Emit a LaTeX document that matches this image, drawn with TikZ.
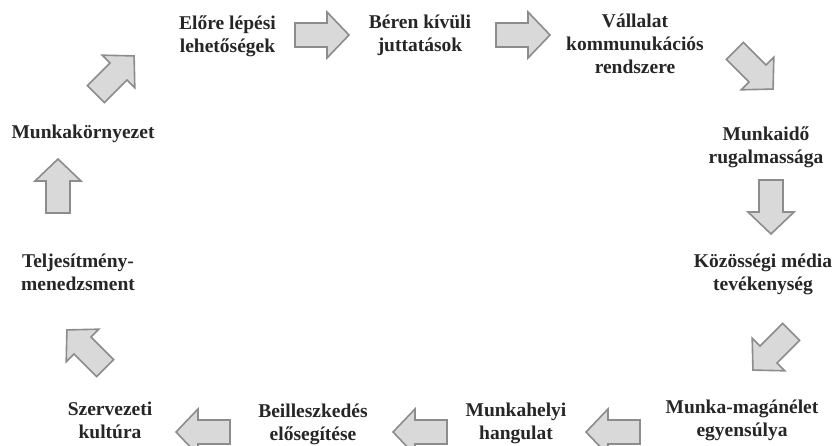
\documentclass[tikz,border=0pt]{standalone}
\usepackage{fontspec}
\setmainfont{Liberation Serif}
\definecolor{txt}{HTML}{262626}
\definecolor{afill}{HTML}{D9D9D9}
\definecolor{aline}{HTML}{8C8C8C}
\tikzset{
  lbl/.style={font=\fontsize{19.5}{23}\selectfont\bfseries, text=txt, align=center, inner sep=0pt},
  blk/.pic={\draw[line width=1.6pt, draw=aline, fill=afill, line join=miter]
     (-27,-12) -- (5,-12) -- (5,-23) -- (27,0) -- (5,23) -- (5,12) -- (-27,12) -- cycle;}
}
\begin{document}
\begin{tikzpicture}[x=1pt,y=1pt]
\useasboundingbox (0,0) rectangle (834,445);
\clip (0,0) rectangle (834,445);
\fill[white] (0,0) rectangle (834,445);
% labels
\node[lbl] (n1) at (227.5,409) {Előre lépési\\lehetőségek};
\node[lbl] (n2) at (420,410) {Béren kívüli\\juttatások};
\node[lbl] (n3) at (635,401) {Vállalat\\kommunukációs\\rendszere};
\node[lbl] (n4) at (766,298) {Munkaidő\\rugalmassága};
\node[lbl] (n5) at (763,171) {Közösségi média\\tevékenység};
\node[lbl] (n6) at (742,25) {Munka-magánélet\\egyensúlya};
\node[lbl] (n7) at (516,22) {Munkahelyi\\hangulat};
\node[lbl] (n8) at (313,21) {Beilleszkedés\\elősegítése};
\node[lbl] (n9) at (110,25) {Szervezeti\\kultúra};
\node[lbl] (n10) at (78,173) {Teljesítmény-\\menedzsment};
\node[lbl] (n11) at (83,311) {Munkakörnyezet};
% block arrows
\pic (a1) at (322,410) {blk};
\pic (a2) at (523,410) {blk};
\pic[rotate=-45] (a3) at (754,375) {blk};
\pic[rotate=-90] (a4) at (771,238) {blk};
\pic[rotate=-135] (a5) at (772,94) {blk};
\pic[rotate=180] (a6) at (613,13) {blk};
\pic[rotate=180] (a7) at (420,13) {blk};
\pic[rotate=180] (a8) at (203,13) {blk};
\pic[rotate=135] (a9) at (86,96) {blk};
\pic[rotate=90] (a10) at (58,259) {blk};
\pic[rotate=45] (a11) at (115,370) {blk};
\end{tikzpicture}
\end{document}
